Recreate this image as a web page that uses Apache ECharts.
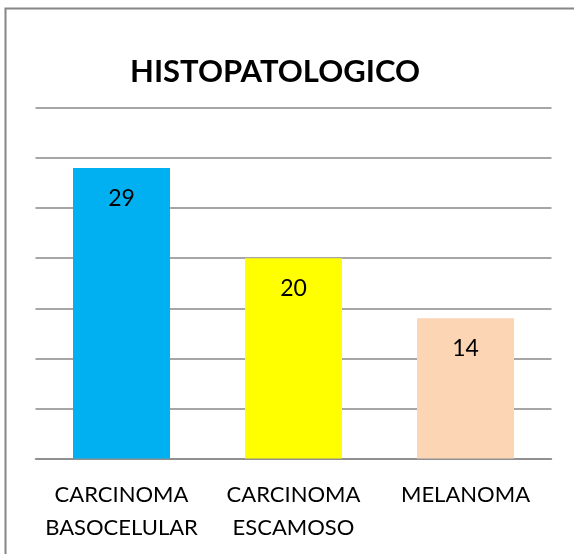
<!DOCTYPE html>
<html>
<head>
<meta charset="utf-8">
<script src="https://cdn.jsdelivr.net/npm/echarts@6/dist/echarts.min.js"></script>
<style>
  html, body { margin: 0; padding: 0; background: #fff; }
  #main { width: 574px; height: 554px; }
</style>
</head>
<body>
<div id="main"></div>
<script>
// datos del grafico
const categorias = ['CARCINOMA\nBASOCELULAR', 'CARCINOMA\nESCAMOSO', 'MELANOMA']
const valores = [29, 20, 14]
const colores = ['#00b0f0', '#ffff00', '#fcd5b5']

const myChart = echarts.init(document.getElementById('main'))

const option = {
  backgroundColor: '#fff',
  title: {
    text: 'HISTOPATOLOGICO',
    left: 270,
    top: 51,
    textAlign: 'center',
    textStyle: {
      fontFamily: 'Lato',
      fontWeight: 'bold',
      fontSize: 31,
      color: '#000'
    }
  },
  graphic: [
    {
      type: 'rect',
      shape: { x: 5.5, y: 8.5, width: 620, height: 620 },
      style: { fill: 'none', stroke: '#868686', lineWidth: 2 },
      silent: true
    }
  ],
  grid: {
    left: 35.5,
    right: 22.5,
    top: 108,
    bottom: 95.5
  },
  xAxis: {
    type: 'category',
    data: categorias,
    axisLine: { show: true, lineStyle: { color: '#898989', width: 1.5 } },
    axisTick: { show: false },
    axisLabel: {
      interval: 0,
      margin: 20,
      fontFamily: 'Lato',
      fontSize: 22,
      lineHeight: 33,
      color: '#000'
    }
  },
  yAxis: {
    type: 'value',
    min: 0,
    max: 35,
    interval: 5,
    axisLabel: { show: false },
    axisLine: { show: false },
    axisTick: { show: false },
    splitLine: { lineStyle: { color: '#898989', width: 1.5 } }
  },
  series: [
    {
      type: 'bar',
      barWidth: 97,
      data: valores.map((v, i) => ({ value: v, itemStyle: { color: colores[i] } })),
      label: {
        show: true,
        position: 'insideTop',
        distance: 19,
        fontFamily: 'Lato',
        fontSize: 23,
        color: '#000'
      }
    }
  ]
}

myChart.setOption(option)
window.onresize = () => {
  myChart.resize()
}
</script>
</body>
</html>
